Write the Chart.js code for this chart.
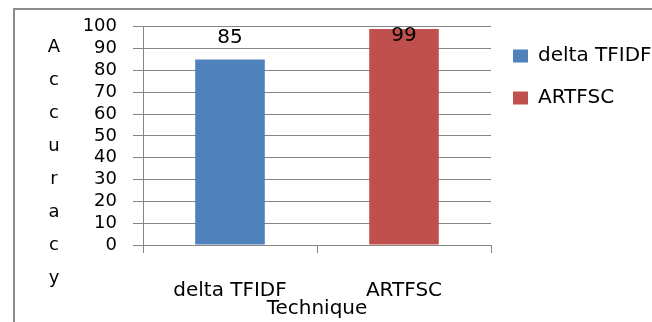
<!DOCTYPE html>
<html>
<head>
<meta charset="utf-8">
<script src="https://cdn.jsdelivr.net/npm/chart.js@4/dist/chart.umd.min.js"></script>
<style>
  html, body { margin: 0; padding: 0; background: #ffffff; }
  #wrap { width: 652px; height: 322px; }
</style>
</head>
<body>
<div id="wrap"><canvas id="chart" width="652" height="322"></canvas></div>
<script>
// Accuracy of each technique
const categories = ['delta TFIDF', 'ARTFSC'];
const accuracy = [85, 99];
const barColors = ['#4F81BD', '#C0504D'];
const yAxisTitle = 'Accuracy';
const xAxisTitle = 'Technique';
const yMin = 0;
const yMax = 100;
const yStep = 10;

const FONT = 'DejaVu Sans';
const GRID = '#868686';

Chart.defaults.font.family = FONT;
Chart.defaults.color = '#000000';

// Outer frame around the whole chart
const framePlugin = {
  id: 'frame',
  beforeDraw(chart) {
    const ctx = chart.ctx;
    ctx.save();
    ctx.fillStyle = '#ffffff';
    ctx.fillRect(0, 0, chart.width, chart.height);
    ctx.strokeStyle = '#8c8c8c';
    ctx.lineWidth = 2;
    ctx.strokeRect(14, 9, chart.width + 20, chart.height + 20);
    ctx.restore();
  }
};

// Vertical axis title written as stacked letters
const stackedTitlePlugin = {
  id: 'stackedTitle',
  afterDraw(chart, args, opts) {
    const ctx = chart.ctx;
    ctx.save();
    ctx.font = opts.size + 'px "' + FONT + '"';
    ctx.fillStyle = '#000000';
    ctx.textAlign = 'center';
    ctx.textBaseline = 'alphabetic';
    const letters = Array.from(opts.text);
    letters.forEach((ch, i) => {
      ctx.fillText(ch, opts.x, opts.firstBaseline + i * opts.step);
    });
    ctx.restore();
  }
};

// Value labels above each bar, kept inside the plot area
const valueLabelPlugin = {
  id: 'valueLabels',
  afterDatasetsDraw(chart, args, opts) {
    const ctx = chart.ctx;
    const meta = chart.getDatasetMeta(0);
    const data = chart.data.datasets[0].data;
    ctx.save();
    ctx.font = opts.size + 'px "' + FONT + '"';
    ctx.fillStyle = '#000000';
    ctx.textAlign = 'center';
    ctx.textBaseline = 'alphabetic';
    meta.data.forEach((bar, i) => {
      const y = Math.max(bar.y - opts.gap, chart.chartArea.top + opts.minTop);
      ctx.fillText(String(data[i]), bar.x, y);
    });
    ctx.restore();
  }
};

new Chart(document.getElementById('chart'), {
  type: 'bar',
  data: {
    labels: categories,
    datasets: [{
      label: xAxisTitle,
      data: accuracy,
      backgroundColor: barColors,
      borderWidth: 0,
      barPercentage: 1,
      categoryPercentage: 0.4
    }]
  },
  options: {
    responsive: false,
    animation: false,
    devicePixelRatio: 1,
    layout: { padding: { left: 0, right: 0, top: 24, bottom: 0 } },
    plugins: {
      tooltip: { enabled: false },
      legend: {
        position: 'right',
        align: 'start',
        maxWidth: 161,
        labels: {
          font: { size: 20 },
          color: '#000000',
          boxWidth: 15,
          boxHeight: 13,
          padding: 22,
          generateLabels(chart) {
            return chart.data.labels.map((text, i) => ({
              text,
              fillStyle: barColors[i],
              strokeStyle: barColors[i],
              lineWidth: 0,
              hidden: false,
              index: i,
              datasetIndex: 0
            }));
          }
        },
        onClick: null
      },
      stackedTitle: { text: yAxisTitle, x: 54, firstBaseline: 52, step: 33, size: 18 },
      valueLabels: { size: 20, gap: 17, minTop: 14 }
    },
    scales: {
      x: {
        afterFit(scale) { scale.height = 77; },
        grid: {
          display: true,
          drawOnChartArea: false,
          drawTicks: true,
          tickLength: 8,
          color: GRID,
          offset: true
        },
        border: { display: true, color: GRID },
        ticks: { font: { size: 20 }, color: '#000000', padding: 26, maxRotation: 0 },
        title: {
          display: true,
          text: xAxisTitle,
          font: { size: 20 },
          color: '#000000',
          padding: { top: 0, bottom: 1 }
        }
      },
      y: {
        min: yMin,
        max: yMax,
        afterFit(scale) { scale.width = 143; },
        grid: { color: GRID, tickLength: 10, drawTicks: true },
        border: { display: true, color: GRID },
        ticks: {
          stepSize: yStep,
          autoSkip: false,
          font: { size: 18 },
          color: '#000000',
          padding: 16
        }
      }
    }
  },
  plugins: [framePlugin, stackedTitlePlugin, valueLabelPlugin]
});
</script>
</body>
</html>
